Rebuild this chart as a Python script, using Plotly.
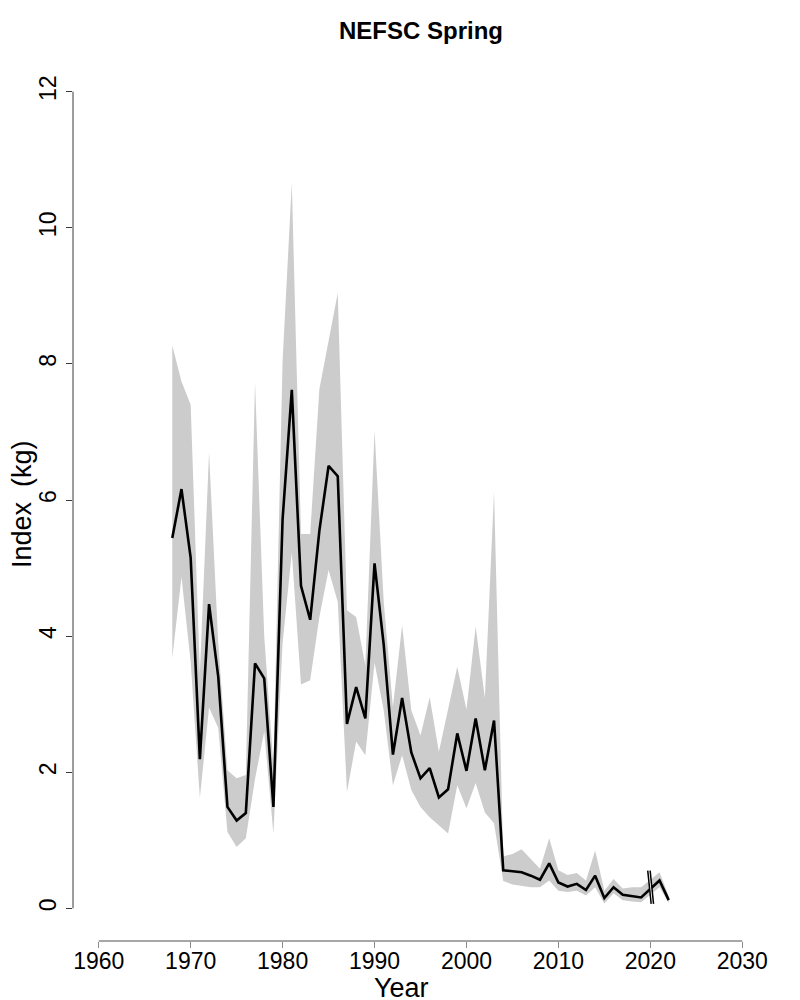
import plotly.graph_objects as go

# survey years (no spring survey in 2020)
years = [1968, 1969, 1970, 1971, 1972, 1973, 1974, 1975, 1976, 1977,
         1978, 1979, 1980, 1981, 1982, 1983, 1984, 1985, 1986, 1987,
         1988, 1989, 1990, 1991, 1992, 1993, 1994, 1995, 1996, 1997,
         1998, 1999, 2000, 2001, 2002, 2003, 2004, 2005, 2006, 2007,
         2008, 2009, 2010, 2011, 2012, 2013, 2014, 2015, 2016, 2017,
         2018, 2019, 2021, 2022]

index_kg = [5.44, 6.16, 5.15, 2.19, 4.47, 3.40, 1.49, 1.29, 1.40, 3.60,
            3.38, 1.49, 5.72, 7.62, 4.74, 4.24, 5.55, 6.50, 6.35, 2.71,
            3.25, 2.79, 5.07, 3.87, 2.26, 3.09, 2.29, 1.91, 2.06, 1.63,
            1.75, 2.57, 2.02, 2.79, 2.03, 2.76, 0.56, 0.54, 0.53, 0.48,
            0.42, 0.66, 0.38, 0.32, 0.36, 0.27, 0.48, 0.15, 0.31, 0.20,
            0.18, 0.16, 0.41, 0.12]

upper_ci = [8.27, 7.74, 7.40, 3.45, 6.70, 3.90, 2.03, 1.91, 1.96, 7.73,
            4.00, 2.10, 8.05, 10.66, 5.50, 5.50, 7.63, 8.35, 9.04, 4.38,
            4.28, 3.57, 7.02, 4.50, 2.96, 4.16, 2.91, 2.54, 3.10, 2.30,
            2.91, 3.55, 2.92, 4.14, 3.09, 6.12, 0.76, 0.80, 0.87, 0.72,
            0.58, 1.03, 0.56, 0.49, 0.52, 0.41, 0.85, 0.26, 0.43, 0.29,
            0.31, 0.31, 0.53, 0.18]

lower_ci = [3.68, 4.87, 3.62, 1.62, 2.95, 2.65, 1.12, 0.90, 1.03, 1.90,
            2.60, 1.10, 3.90, 5.23, 3.29, 3.35, 4.28, 4.97, 4.50, 1.71,
            2.45, 2.25, 3.61, 2.91, 1.81, 2.25, 1.74, 1.49, 1.34, 1.22,
            1.10, 1.81, 1.47, 1.84, 1.41, 1.25, 0.40, 0.35, 0.33, 0.31,
            0.31, 0.41, 0.26, 0.24, 0.26, 0.19, 0.31, 0.07, 0.22, 0.12,
            0.10, 0.09, 0.31, 0.08]

x_ticks = [1960, 1970, 1980, 1990, 2000, 2010, 2020, 2030]
y_ticks = [0, 2, 4, 6, 8, 10, 12]
break_year = 2020

font_family = "Liberation Sans, Arial, Helvetica, sans-serif"

fig = go.Figure()

# confidence band
fig.add_trace(go.Scatter(x=years, y=lower_ci, mode="lines",
                         line=dict(width=0), hoverinfo="skip", showlegend=False))
fig.add_trace(go.Scatter(x=years, y=upper_ci, mode="lines", fill="tonexty",
                         fillcolor="#cccccc", line=dict(width=0),
                         hoverinfo="skip", showlegend=False))
# index line
fig.add_trace(go.Scatter(x=years, y=index_kg, mode="lines",
                         line=dict(color="black", width=2.6), showlegend=False))

# axis lines only span the tick range (R style)
shapes = [
    dict(type="line", xref="x", yref="paper", x0=x_ticks[0], x1=x_ticks[-1],
         y0=0, y1=0, line=dict(color="#8a8a8a", width=1.3)),
    dict(type="line", xref="paper", yref="y", x0=0, x1=0,
         y0=y_ticks[0], y1=y_ticks[-1], line=dict(color="#3a3a3a", width=1)),
]

# break marks at the missing 2020 survey
i19 = years.index(break_year - 1)
i21 = years.index(break_year + 1)
yc = (upper_ci[i19] + lower_ci[i19] + upper_ci[i21] + lower_ci[i21]) / 4
hh = 0.245
slant = 0.37
xa = break_year - 0.28
xb = break_year - 0.02
shapes.append(dict(type="path", xref="x", yref="y", layer="above",
                   path=f"M {xa},{yc + hh} L {xb},{yc + hh} L {xb + slant},{yc - hh} "
                        f"L {xa + slant},{yc - hh} Z",
                   fillcolor="white", line=dict(width=0)))
for x0 in (xa, xb):
    shapes.append(dict(type="line", xref="x", yref="y", layer="above",
                       x0=x0, y0=yc + hh, x1=x0 + slant, y1=yc - hh,
                       line=dict(color="black", width=1.5)))

# page body has an 8px margin, so the figure is 8px smaller and margins shifted
fig.update_layout(
    width=792, height=992,
    margin=dict(l=65, r=32, t=51, b=59),
    paper_bgcolor="white", plot_bgcolor="white",
    font=dict(family=font_family, color="black"),
    title=dict(text="<b>NEFSC Spring</b>", x=0.5215, xanchor="center",
               y=0.9768, yanchor="middle", yref="container",
               font=dict(size=24, family=font_family, color="black")),
    xaxis=dict(range=[1957.2, 2032.8], tickvals=x_ticks, ticks="outside",
               ticklen=6, tickcolor="#8a8a8a", showgrid=False, zeroline=False,
               showline=False, tickfont=dict(size=23), ticklabelstandoff=-7,
               automargin=False),
    yaxis=dict(range=[-0.48, 12.48], tickvals=y_ticks, ticks="outside",
               ticklen=6, tickcolor="#3a3a3a", showgrid=False, zeroline=False,
               showline=False, tickangle=-90, tickfont=dict(size=23),
               ticklabelstandoff=1, automargin=False),
    shapes=shapes,
    annotations=[
        dict(text="Year", xref="paper", yref="paper", x=0.472, y=-0.0533,
             xanchor="center", yanchor="middle", showarrow=False,
             font=dict(size=27)),
        dict(text="Index  (kg)", xref="paper", yref="paper", x=-0.0734, y=0.4955,
             xanchor="center", yanchor="middle", textangle=-90, showarrow=False,
             font=dict(size=27)),
    ],
)

fig.write_html("out.html")
